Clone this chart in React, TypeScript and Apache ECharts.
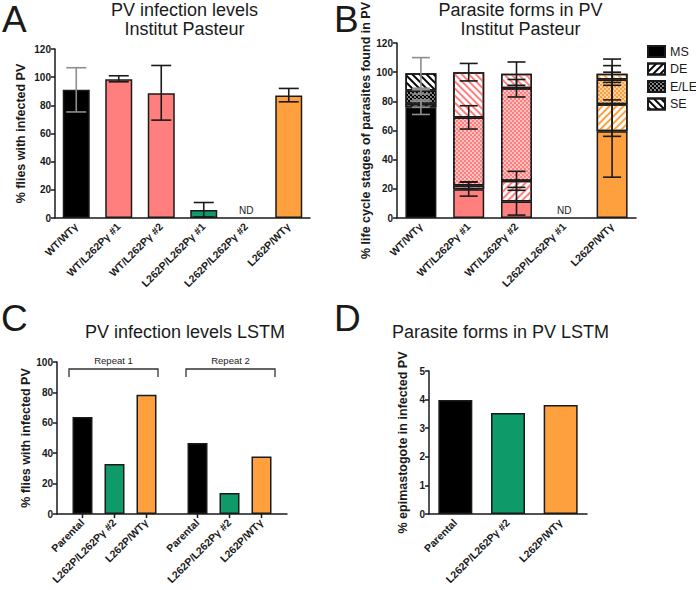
import React, { useEffect, useRef } from "react";
import * as echarts from "echarts";

const FONT = '"Liberation Sans", Arial, Helvetica, sans-serif';
const INK = "#1a1a1a";
const BLACK = "#000000";
const PINK = "#ff7f7f";
const GREEN = "#0f9a6a";
const ORANGE = "#ffa03e";
const GREY_ERR = "#8e8e8e";

// ---------- Panel A ----------
const catsA = ["WT/WTγ", "WT/L262Pγ #1", "WT/L262Pγ #2", "L262P/L262Pγ #1", "L262P/L262Pγ #2", "L262P/WTγ"];
const valuesA = [91, 98.5, 88.5, 5.6, null, 87];
const errLowA = [75.3, 96.7, 69.5, 0.7, null, 82.5];
const errHighA = [106.7, 101, 108.3, 11, null, 92];
const colorsA = [BLACK, PINK, PINK, GREEN, null, ORANGE];

// ---------- Panel B ----------
const catsB = ["WT/WTγ", "WT/L262Pγ #1", "WT/L262Pγ #2", "L262P/L262Pγ #1", "L262P/WTγ"];
const stagesB = ["MS", "DE", "E/LE", "SE"];
const colorsB = [BLACK, PINK, PINK, null, ORANGE];
const msB = [76, 19.8, 11.4, null, 59.5];
const deB = [2.4, 2.5, 14.1, null, 18.5];
const eleB = [9.1, 46.6, 63.4, null, 17];
const seB = [11.8, 31.1, 10, null, 3.9];
const msErrLowB = [71, 15, 2, null, 28];
const msErrHighB = [81, 24.6, 21, null, 91];
const deErrLowB = [76, 20, 19, null, 56];
const deErrHighB = [80, 24.8, 32, null, 100];
const eleErrLowB = [85, 61, 83, null, 81];
const eleErrHighB = [89, 77, 95, null, 109];
const seErrLowB = [88, 94, 91, null, 93];
const seErrHighB = [110, 106, 107, null, 104.5];

// ---------- Panel C ----------
const repeatsC = ["Repeat 1", "Repeat 2"];
const strainsC = ["Parental", "L262P/L262Pγ #2", "L262P/WTγ"];
const colorsC = [BLACK, GREEN, ORANGE];
const parentalC = [63.8, 46.7];
const l262pHomC = [32.9, 13.8];
const l262pWtC = [78.5, 37.9];

// ---------- Panel D ----------
const catsD = ["Parental", "L262P/L262Pγ #2", "L262P/WTγ"];
const valuesD = [3.99, 3.53, 3.81];
const colorsD = [BLACK, GREEN, ORANGE];

const BAR_W_C = 20;
const BAR_GAP_C = 0.6;

const stripe = (color: string, rotation: number) => ({
  symbol: "rect",
  color,
  dashArrayX: [1, 0],
  dashArrayY: [1.6, 2.4],
  rotation,
});
const dots = (color: string) => ({
  symbol: "circle",
  color,
  symbolSize: 0.75,
  dashArrayX: [[2, 2], [0, 2, 2, 0]],
  dashArrayY: [2, 0],
});

const errRender = (cap: number) => (params: any, api: any) => {
  const x = api.value(0);
  const lo = api.coord([x, api.value(1)]);
  const hi = api.coord([x, api.value(2)]);
  const color = api.visual("color");
  const h = cap / 2;
  const style = { stroke: color, lineWidth: 1.6, fill: null };
  return {
    type: "group",
    children: [
      { type: "line", shape: { x1: lo[0], y1: lo[1], x2: hi[0], y2: hi[1] }, style },
      { type: "line", shape: { x1: lo[0] - h, y1: lo[1], x2: lo[0] + h, y2: lo[1] }, style },
      { type: "line", shape: { x1: hi[0] - h, y1: hi[1], x2: hi[0] + h, y2: hi[1] }, style },
    ],
  };
};

// ticks under each grouped bar of panel C
const tickRenderC = (params: any, api: any) => {
  const c = api.coord([api.value(0), 0]);
  const step = BAR_W_C * (1 + BAR_GAP_C);
  const n = strainsC.length;
  const children = strainsC.map((_, k) => {
    const x = c[0] + (k - (n - 1) / 2) * step;
    return { type: "line", shape: { x1: x, y1: c[1], x2: x, y2: c[1] + 4 }, style: { stroke: INK, lineWidth: 1.5 } };
  });
  return { type: "group", children };
};

const axisLineStyle = { color: INK, width: 1.5 };

const yAxis = (gridIndex: number, max: number, interval: number, name: string, nameGap: number) => ({
  type: "value",
  gridIndex,
  min: 0,
  max,
  interval,
  name,
  nameLocation: "middle",
  nameGap,
  nameRotate: 90,
  nameTextStyle: { fontFamily: FONT, fontWeight: "bold", fontSize: 12.5, color: INK },
  axisLine: { show: true, lineStyle: axisLineStyle },
  axisTick: { show: true, length: 4, lineStyle: axisLineStyle },
  axisLabel: { fontFamily: FONT, fontWeight: "bold", fontSize: 10, color: INK, margin: 4 },
  splitLine: { show: false },
});

const xLabel = { rotate: 45, interval: 0, fontFamily: FONT, fontWeight: "bold", fontSize: 10.5, color: INK, margin: 7 };

const xAxis = (gridIndex: number, data: string[]) => ({
  type: "category",
  gridIndex,
  data,
  axisLine: { lineStyle: axisLineStyle },
  axisTick: { alignWithLabel: true, length: 4, lineStyle: axisLineStyle },
  axisLabel: xLabel,
});

const ndLabel = { show: true, formatter: "ND", position: "top", distance: 3, fontFamily: FONT, fontSize: 10, color: INK };
const border = { borderColor: INK, borderWidth: 1.5 };

function buildOption() {
  const barA = valuesA.map((v, i) =>
    v == null
      ? { value: 0, itemStyle: { borderWidth: 0, color: "transparent" }, label: ndLabel }
      : { value: v, itemStyle: { color: colorsA[i] } }
  );
  const errA: any[] = [];
  valuesA.forEach((v, i) => {
    if (v != null) errA.push({ value: [i, errLowA[i], errHighA[i]], itemStyle: { color: i === 0 ? GREY_ERR : INK } });
  });

  const segs = [msB, deB, eleB, seB];
  const lows = [msErrLowB, deErrLowB, eleErrLowB, seErrLowB];
  const highs = [msErrHighB, deErrHighB, eleErrHighB, seErrHighB];
  const segStyle = (s: number, c: string) => {
    if (s === 0) return { color: c };
    if (s === 1) return { color: "#ffffff", decal: stripe(c, -Math.PI / 4) };
    if (s === 2) return { color: c, decal: dots("#ffffff") };
    return { color: "#ffffff", decal: stripe(c, Math.PI / 4) };
  };
  const seriesB = stagesB.map((name, s) => ({
    type: "bar",
    name,
    xAxisIndex: 1,
    yAxisIndex: 1,
    stack: "b",
    barWidth: 31,
    itemStyle: { ...segStyle(s, BLACK), ...border },
    data: segs[s].map((v, i) => {
      if (v == null) {
        return s === 0 ? { value: 0, itemStyle: { borderWidth: 0, color: "transparent", decal: null }, label: ndLabel } : "-";
      }
      return { value: v, itemStyle: { ...segStyle(s, colorsB[i] as string), ...border } };
    }),
  }));
  const errB: any[] = [];
  segs.forEach((arr, s) => {
    arr.forEach((v, i) => {
      if (v != null) errB.push({ value: [i, lows[s][i], highs[s][i]], itemStyle: { color: i === 0 ? GREY_ERR : INK } });
    });
  });

  const valsC = [parentalC, l262pHomC, l262pWtC];
  const seriesC = strainsC.map((name, k) => ({
    type: "bar",
    name,
    xAxisIndex: 2,
    yAxisIndex: 2,
    barWidth: BAR_W_C,
    barGap: `${BAR_GAP_C * 100}%`,
    itemStyle: { color: colorsC[k], ...border },
    label: {
      show: true,
      position: "bottom",
      distance: 7,
      rotate: 45,
      align: "right",
      verticalAlign: "middle",
      formatter: "{a}",
      fontFamily: FONT,
      fontWeight: "bold",
      fontSize: 10.5,
      color: INK,
    },
    data: valsC[k],
  }));

  const barD = valuesD.map((v, i) => ({ value: v, itemStyle: { color: colorsD[i] } }));

  const titleFont = `18px ${FONT}`;
  const txt = (text: string, x: number, y: number, font: string, align = "center", va = "middle") => ({
    type: "text",
    x,
    y,
    style: { text, font, fill: INK, align, verticalAlign: va },
  });
  const bracket = (x1: number, x2: number, label: string) => [
    {
      type: "polyline",
      shape: { points: [[x1, 377], [x1, 369], [x2, 369], [x2, 377]] },
      style: { stroke: "#333", lineWidth: 1.3, fill: null },
    },
    txt(label, (x1 + x2) / 2, 360, `9.5px ${FONT}`),
  ];
  const letterFont = `37px ${FONT}`;

  return {
    animation: false,
    backgroundColor: "#ffffff",
    textStyle: { fontFamily: FONT },
    grid: [
      { left: 55, top: 49, width: 255, height: 169 },
      { left: 397, top: 42, width: 239, height: 176 },
      { left: 57, top: 362, width: 230, height: 152 },
      { left: 429, top: 371, width: 158, height: 143 },
    ],
    legend: {
      data: stagesB,
      orient: "vertical",
      left: 642,
      top: 40,
      itemWidth: 17,
      itemHeight: 11,
      itemGap: 4.5,
      icon: "rect",
      selectedMode: false,
      textStyle: { fontFamily: FONT, fontSize: 12.5, color: INK },
    },
    xAxis: [
      xAxis(0, catsA),
      xAxis(1, catsB),
      {
        type: "category",
        gridIndex: 2,
        data: repeatsC,
        axisLine: { lineStyle: axisLineStyle },
        axisTick: { show: false },
        axisLabel: { show: false },
      },
      xAxis(3, catsD),
    ],
    yAxis: [
      yAxis(0, 120, 20, "% flies with infected PV", 28),
      yAxis(1, 120, 20, "% life cycle stages of parasites found in PV", 22),
      yAxis(2, 100, 20, "% flies with infected PV", 20),
      yAxis(3, 5, 1, "% epimastogote in infected PV", 20),
    ],
    series: [
      { type: "bar", name: "A", xAxisIndex: 0, yAxisIndex: 0, barWidth: 27, itemStyle: border, data: barA },
      { type: "custom", name: "A err", xAxisIndex: 0, yAxisIndex: 0, renderItem: errRender(20), data: errA, z: 5 },
      ...seriesB,
      { type: "custom", name: "B err", xAxisIndex: 1, yAxisIndex: 1, renderItem: errRender(18), data: errB, z: 5 },
      ...seriesC,
      {
        type: "custom",
        name: "C ticks",
        xAxisIndex: 2,
        yAxisIndex: 2,
        renderItem: tickRenderC,
        data: repeatsC.map((_, i) => [i, 0]),
        clip: false,
        z: 5,
      },
      { type: "bar", name: "D", xAxisIndex: 3, yAxisIndex: 3, barWidth: 34, itemStyle: border, data: barD },
    ],
    graphic: [
      txt("A", 2, 1, letterFont, "left", "top"),
      txt("B", 334, 1, letterFont, "left", "top"),
      txt("C", 1, 300, letterFont, "left", "top"),
      txt("D", 334, 300, letterFont, "left", "top"),
      txt("PV infection levels", 184.5, 9.5, titleFont),
      txt("Institut Pasteur", 184.5, 28.5, titleFont),
      txt("Parasite forms in PV", 520.5, 9.5, titleFont),
      txt("Institut Pasteur", 520.5, 28.5, titleFont),
      txt("PV infection levels LSTM", 185, 332, titleFont),
      txt("Parasite forms in PV LSTM", 500.5, 332, titleFont),
      ...bracket(69, 158, "Repeat 1"),
      ...bracket(186, 275, "Repeat 2"),
    ],
  };
}

export default function App() {
  const ref = useRef<HTMLDivElement>(null);
  useEffect(() => {
    if (!ref.current) return;
    const chart = echarts.init(ref.current, undefined, { renderer: "svg" });
    chart.setOption(buildOption() as any);
    return () => chart.dispose();
  }, []);
  return (
    <div
      ref={ref}
      style={{ position: "absolute", left: 0, top: 0, width: 696, height: 590, background: "#fff" }}
    />
  );
}
